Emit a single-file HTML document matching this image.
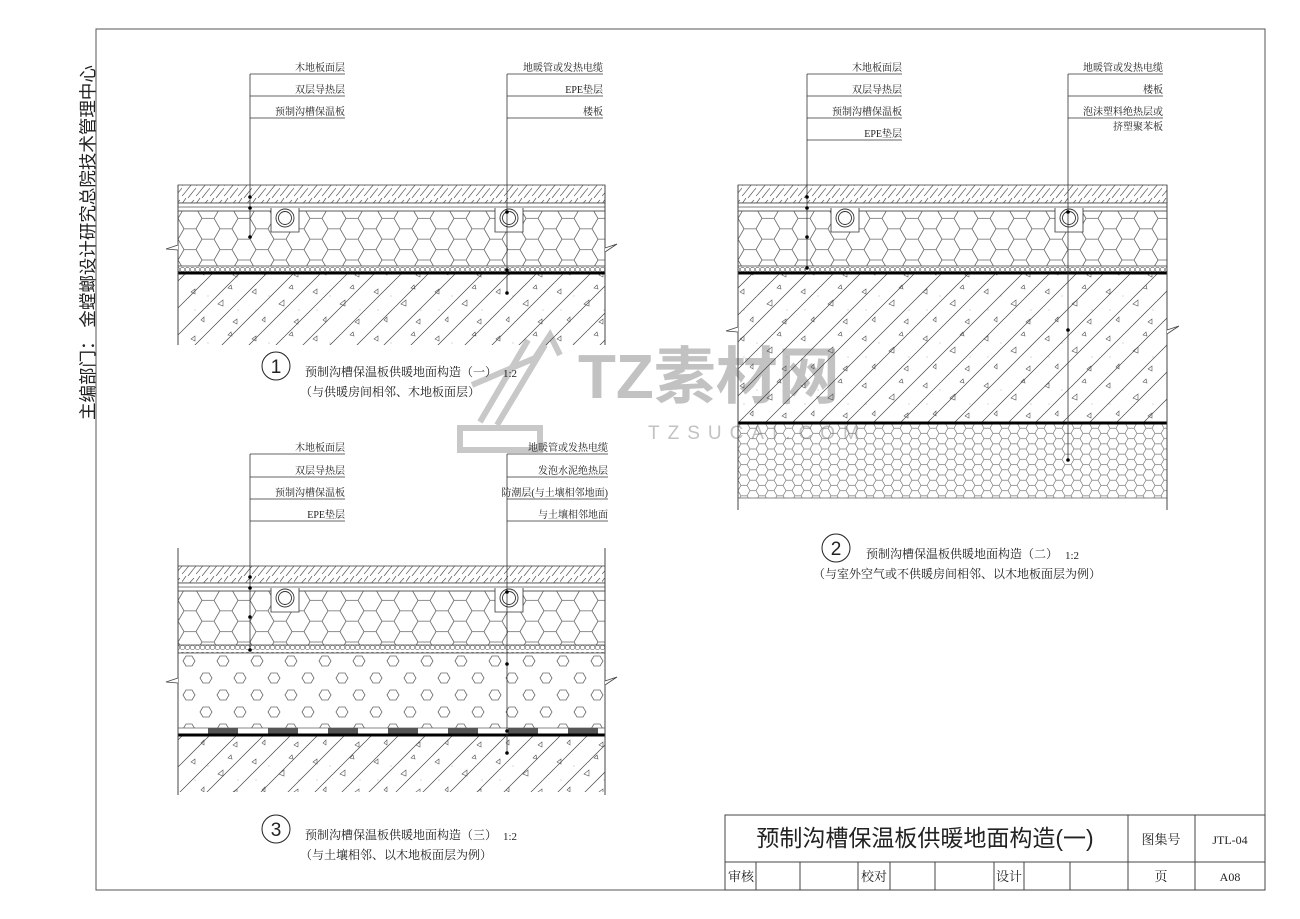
<!DOCTYPE html>
<html><head><meta charset="utf-8"><style>
html,body{margin:0;padding:0;background:#fff}
svg{display:block}
text{font-family:"Liberation Serif","Noto Serif CJK SC","Noto Sans CJK SC",serif;fill:#222}
.s{font-size:10px}
.wm{fill:#c2c2c2}
</style></head><body>
<svg width="1300" height="919" viewBox="0 0 1300 919" xmlns="http://www.w3.org/2000/svg">
<defs>
<pattern id="wood" width="14" height="18" patternUnits="userSpaceOnUse">
<path d="M0,16 C4,12 6,8 12,2 M6,18 C10,13 12,10 16,6 M-2,8 C0,6 2,3 4,0" stroke="#555" stroke-width="0.7" fill="none"/>
</pattern>
<pattern id="hex" width="36" height="20.8" patternUnits="userSpaceOnUse" x="178" y="208">
<path d="M0,10.4 L6,0 L18,0 L24,10.4 L18,20.8 L6,20.8 Z M24,10.4 L36,10.4" stroke="#666" stroke-width="0.8" fill="none"/>
</pattern>
<pattern id="hex2" width="36" height="20.8" patternUnits="userSpaceOnUse" x="738" y="208">
<path d="M0,10.4 L6,0 L18,0 L24,10.4 L18,20.8 L6,20.8 Z M24,10.4 L36,10.4" stroke="#666" stroke-width="0.8" fill="none"/>
</pattern>
<pattern id="hex3" width="36" height="20.8" patternUnits="userSpaceOnUse" x="178" y="590">
<path d="M0,10.4 L6,0 L18,0 L24,10.4 L18,20.8 L6,20.8 Z M24,10.4 L36,10.4" stroke="#666" stroke-width="0.8" fill="none"/>
</pattern>
<pattern id="hexs" width="18" height="10.4" patternUnits="userSpaceOnUse" x="738" y="423">
<path d="M0,5.2 L3,0 L9,0 L12,5.2 L9,10.4 L3,10.4 Z M12,5.2 L18,5.2" stroke="#777" stroke-width="0.7" fill="none"/>
</pattern>
<pattern id="dots" width="5" height="7" patternUnits="userSpaceOnUse">
<circle cx="2.5" cy="3.5" r="2.2" stroke="#666" stroke-width="0.6" fill="none"/>
</pattern>
<pattern id="sparse" width="34" height="34" patternUnits="userSpaceOnUse" x="178" y="653">
<path d="M5,8 L8,3 L14,3 L17,8 L14,13 L8,13 Z M22,25 L25,20 L31,20 L34,25 L31,30 L25,30 Z M-12,25 L-9,20 L-3,20 L0,25 L-3,30 L-9,30 Z" stroke="#666" stroke-width="0.8" fill="none"/>
</pattern>
<pattern id="conc" width="27" height="27" patternUnits="userSpaceOnUse">
<path d="M0,27 L27,0 M-3,3 L3,-3 M24,30 L30,24" stroke="#444" stroke-width="0.7"/>
</pattern>
<pattern id="tri" width="61" height="47" patternUnits="userSpaceOnUse">
<path d="M8,10 l4,-3 l0,5 Z M35,22 l5,-4 l0,6 Z M18,38 l3,-3 l0,5 Z M50,40 l4,-3 l0,5 Z M45,6 l3,-3 l1,4 Z" stroke="#555" stroke-width="0.6" fill="none"/>
<circle cx="25" cy="14" r="0.5" fill="#999"/><circle cx="55" cy="28" r="0.5" fill="#999"/><circle cx="12" cy="28" r="0.5" fill="#999"/>
</pattern>
<g id="pipe">
<path d="M-14,-10 L-14,14 L14,14 L14,-10" stroke="#333" stroke-width="0.8" fill="#fff"/>
<circle r="9" stroke="#333" stroke-width="0.9" fill="#fff"/>
<circle r="6.5" stroke="#333" stroke-width="0.9" fill="#fff"/>
</g>
</defs>

<!-- frame -->
<rect x="96" y="29" width="1169" height="861" fill="none" stroke="#555" stroke-width="1"/>
<text transform="translate(94,420) rotate(-90)" style="font-family:'Liberation Sans','Noto Sans CJK SC',sans-serif;font-size:17.5px">主编部门：  金螳螂设计研究总院技术管理中心</text>

<!-- watermark (behind) -->
<g>
<g stroke="#c8c8c8" stroke-width="6" fill="none">
<path d="M480,422 L528,340 M497,425 L545,345 M472,385 L535,358 L550,335 L560,355"/>
<rect x="460" y="428" width="80" height="22"/>
</g>
<text class="wm" x="578" y="398" style="font-family:'Liberation Sans','Noto Sans CJK SC',sans-serif;font-size:62px;font-weight:bold">TZ素材网</text>
<text class="wm" x="648" y="439" style="font-family:'Liberation Sans',sans-serif;font-size:19px;letter-spacing:8px">TZSUCAI.COM</text>
</g>

<!-- DETAIL 1 -->
<g>
<rect x="178" y="185" width="427" height="18" fill="url(#wood)" stroke="#444" stroke-width="0.8"/>
<rect x="178" y="203" width="427" height="8" fill="#fff" stroke="#444" stroke-width="0.8"/>
<line x1="178" y1="207" x2="605" y2="207" stroke="#555" stroke-width="0.7"/>
<rect x="178" y="211" width="427" height="55" fill="url(#hex)" stroke="#555" stroke-width="0.7"/>
<rect x="178" y="266" width="427" height="7" fill="url(#dots)" stroke="#555" stroke-width="0.6"/>
<rect x="178" y="273" width="427" height="72" fill="url(#conc)"/>
<rect x="178" y="273" width="427" height="72" fill="url(#tri)"/>
<line x1="178" y1="273" x2="605" y2="273" stroke="#000" stroke-width="3"/>
<line x1="178" y1="185" x2="178" y2="345" stroke="#444"/>
<line x1="605" y1="185" x2="605" y2="345" stroke="#444"/>
<use href="#pipe" x="285" y="218"/><use href="#pipe" x="509" y="218"/>
<path d="M178,245 L166,249 L178,250" stroke="#444" fill="#fff" stroke-width="0.8"/>
<path d="M605,248 L617,244 L605,252" stroke="#444" fill="#fff" stroke-width="0.8"/>
</g>
<g stroke="#333" stroke-width="0.8">
<path d="M250,74 L250,237 M250,74 L345,74 M250,96 L345,96 M250,118 L345,118"/>
<path d="M507,74 L507,293 M507,74 L603,74 M507,96 L603,96 M507,118 L603,118"/>
</g>
<g fill="#000"><circle cx="250" cy="197" r="1.8"/><circle cx="250" cy="208" r="1.8"/><circle cx="250" cy="237" r="1.8"/><circle cx="507" cy="212" r="1.8"/><circle cx="507" cy="270" r="1.8"/><circle cx="507" cy="293" r="1.8"/></g>
<g class="s" text-anchor="end">
<text x="345" y="71">木地板面层</text><text x="345" y="93">双层导热层</text><text x="345" y="115">预制沟槽保温板</text>
<text x="603" y="71">地暖管或发热电缆</text><text x="603" y="93">EPE垫层</text><text x="603" y="115">楼板</text>
</g>
<circle cx="276" cy="366" r="14" fill="none" stroke="#222" stroke-width="1"/>
<text x="276" y="373" text-anchor="middle" style="font-family:'Liberation Sans',sans-serif;font-size:19px">1</text>
<text x="305" y="376" style="font-size:12px">预制沟槽保温板供暖地面构造（一）</text>
<text x="503" y="377" style="font-size:11px">1:2</text>
<text x="300" y="396" style="font-size:12px">（与供暖房间相邻、木地板面层）</text>

<!-- DETAIL 2 -->
<g>
<rect x="738" y="185" width="429" height="18" fill="url(#wood)" stroke="#444" stroke-width="0.8"/>
<rect x="738" y="203" width="429" height="8" fill="#fff" stroke="#444" stroke-width="0.8"/>
<line x1="738" y1="207" x2="1167" y2="207" stroke="#555" stroke-width="0.7"/>
<rect x="738" y="211" width="429" height="55" fill="url(#hex2)" stroke="#555" stroke-width="0.7"/>
<rect x="738" y="266" width="429" height="7" fill="url(#dots)" stroke="#555" stroke-width="0.6"/>
<rect x="738" y="273" width="429" height="150" fill="url(#conc)"/>
<rect x="738" y="273" width="429" height="150" fill="url(#tri)"/>
<rect x="738" y="423" width="429" height="75" fill="url(#hexs)" stroke="#555" stroke-width="0.7"/>
<line x1="738" y1="273" x2="1167" y2="273" stroke="#000" stroke-width="3"/>
<line x1="738" y1="423" x2="1167" y2="423" stroke="#000" stroke-width="3"/>
<line x1="738" y1="185" x2="738" y2="510" stroke="#444"/>
<line x1="1167" y1="185" x2="1167" y2="510" stroke="#444"/>
<use href="#pipe" x="845" y="218"/><use href="#pipe" x="1069" y="218"/>
<path d="M738,327 L726,331 L738,332" stroke="#444" fill="#fff" stroke-width="0.8"/>
<path d="M1167,330 L1179,326 L1167,334" stroke="#444" fill="#fff" stroke-width="0.8"/>
</g>
<g stroke="#333" stroke-width="0.8">
<path d="M807,74 L807,268 M807,74 L902,74 M807,96 L902,96 M807,118 L902,118 M807,140 L902,140"/>
<path d="M1068,74 L1068,460 M1068,74 L1163,74 M1068,96 L1163,96 M1068,118 L1163,118"/>
</g>
<g fill="#000"><circle cx="807" cy="197" r="1.8"/><circle cx="807" cy="208" r="1.8"/><circle cx="807" cy="237" r="1.8"/><circle cx="807" cy="268" r="1.8"/><circle cx="1068" cy="212" r="1.8"/><circle cx="1068" cy="330" r="1.8"/><circle cx="1068" cy="460" r="1.8"/></g>
<g class="s" text-anchor="end">
<text x="902" y="71">木地板面层</text><text x="902" y="93">双层导热层</text><text x="902" y="115">预制沟槽保温板</text><text x="902" y="137">EPE垫层</text>
<text x="1163" y="71">地暖管或发热电缆</text><text x="1163" y="93">楼板</text><text x="1163" y="115">泡沫塑料绝热层或</text><text x="1163" y="130">挤塑聚苯板</text>
</g>
<circle cx="836" cy="548" r="14" fill="none" stroke="#222" stroke-width="1"/>
<text x="836" y="555" text-anchor="middle" style="font-family:'Liberation Sans',sans-serif;font-size:19px">2</text>
<text x="866" y="558" style="font-size:12px">预制沟槽保温板供暖地面构造（二）</text>
<text x="1065" y="559" style="font-size:11px">1:2</text>
<text x="813" y="578" style="font-size:12px">（与室外空气或不供暖房间相邻、以木地板面层为例）</text>

<!-- DETAIL 3 -->
<g>
<rect x="178" y="566" width="427" height="17" fill="url(#wood)" stroke="#444" stroke-width="0.8"/>
<rect x="178" y="583" width="427" height="8" fill="#fff" stroke="#444" stroke-width="0.8"/>
<line x1="178" y1="587" x2="605" y2="587" stroke="#555" stroke-width="0.7"/>
<rect x="178" y="591" width="427" height="54" fill="url(#hex3)" stroke="#555" stroke-width="0.7"/>
<rect x="178" y="645" width="427" height="8" fill="url(#dots)" stroke="#555" stroke-width="0.6"/>
<rect x="178" y="653" width="427" height="75" fill="url(#sparse)" stroke="#555" stroke-width="0.7"/>
<g fill="#555"><rect x="208" y="728" width="30" height="7"/><rect x="268" y="728" width="30" height="7"/><rect x="328" y="728" width="30" height="7"/><rect x="388" y="728" width="30" height="7"/><rect x="448" y="728" width="30" height="7"/><rect x="508" y="728" width="30" height="7"/><rect x="568" y="728" width="30" height="7"/></g>
<rect x="178" y="735" width="427" height="57" fill="url(#conc)"/>
<rect x="178" y="735" width="427" height="57" fill="url(#tri)"/>
<line x1="178" y1="735" x2="605" y2="735" stroke="#000" stroke-width="3"/>
<line x1="178" y1="548" x2="178" y2="795" stroke="#444"/>
<line x1="605" y1="548" x2="605" y2="795" stroke="#444"/>
<use href="#pipe" x="285" y="598"/><use href="#pipe" x="509" y="598"/>
<path d="M178,678 L166,682 L178,683" stroke="#444" fill="#fff" stroke-width="0.8"/>
<path d="M605,681 L617,677 L605,685" stroke="#444" fill="#fff" stroke-width="0.8"/>
</g>
<g stroke="#333" stroke-width="0.8">
<path d="M250,454 L250,650 M250,454 L345,454 M250,477 L345,477 M250,499 L345,499 M250,521 L345,521"/>
<path d="M507,454 L507,753 M507,454 L608,454 M507,477 L608,477 M507,499 L608,499 M507,521 L608,521"/>
</g>
<g fill="#000"><circle cx="250" cy="577" r="1.8"/><circle cx="250" cy="588" r="1.8"/><circle cx="250" cy="617" r="1.8"/><circle cx="250" cy="650" r="1.8"/><circle cx="507" cy="592" r="1.8"/><circle cx="507" cy="664" r="1.8"/><circle cx="507" cy="731" r="1.8"/><circle cx="507" cy="753" r="1.8"/></g>
<g class="s" text-anchor="end">
<text x="345" y="451">木地板面层</text><text x="345" y="474">双层导热层</text><text x="345" y="496">预制沟槽保温板</text><text x="345" y="518">EPE垫层</text>
<text x="608" y="451">地暖管或发热电缆</text><text x="608" y="474">发泡水泥绝热层</text><text x="608" y="496">防潮层(与土壤相邻地面)</text><text x="608" y="518">与土壤相邻地面</text>
</g>
<circle cx="276" cy="829" r="14" fill="none" stroke="#222" stroke-width="1"/>
<text x="276" y="836" text-anchor="middle" style="font-family:'Liberation Sans',sans-serif;font-size:19px">3</text>
<text x="305" y="839" style="font-size:12px">预制沟槽保温板供暖地面构造（三）</text>
<text x="503" y="840" style="font-size:11px">1:2</text>
<text x="300" y="859" style="font-size:12px">（与土壤相邻、以木地板面层为例）</text>

<!-- title block -->
<g stroke="#444" stroke-width="1" fill="none">
<rect x="725" y="815" width="540" height="75"/>
<line x1="725" y1="862" x2="1265" y2="862"/>
<line x1="1128" y1="815" x2="1128" y2="890"/>
<line x1="1195" y1="815" x2="1195" y2="890"/>
<line x1="756" y1="862" x2="756" y2="890"/>
<line x1="800" y1="862" x2="800" y2="890"/>
<line x1="858" y1="862" x2="858" y2="890"/>
<line x1="890" y1="862" x2="890" y2="890"/>
<line x1="935" y1="862" x2="935" y2="890"/>
<line x1="994" y1="862" x2="994" y2="890"/>
<line x1="1024" y1="862" x2="1024" y2="890"/>
<line x1="1070" y1="862" x2="1070" y2="890"/>
</g>
<text x="925" y="846" text-anchor="middle" style="font-family:'Liberation Sans','Noto Sans CJK SC',sans-serif;font-size:23px">预制沟槽保温板供暖地面构造(一)</text>
<g style="font-size:13px" text-anchor="middle">
<text x="1161" y="844">图集号</text><text x="1230" y="844" style="font-size:12px">JTL-04</text>
<text x="741" y="881">审核</text><text x="874" y="881">校对</text><text x="1009" y="881">设计</text>
<text x="1161" y="881">页</text><text x="1230" y="881" style="font-size:12px">A08</text>
</g>
</svg>
</body></html>
